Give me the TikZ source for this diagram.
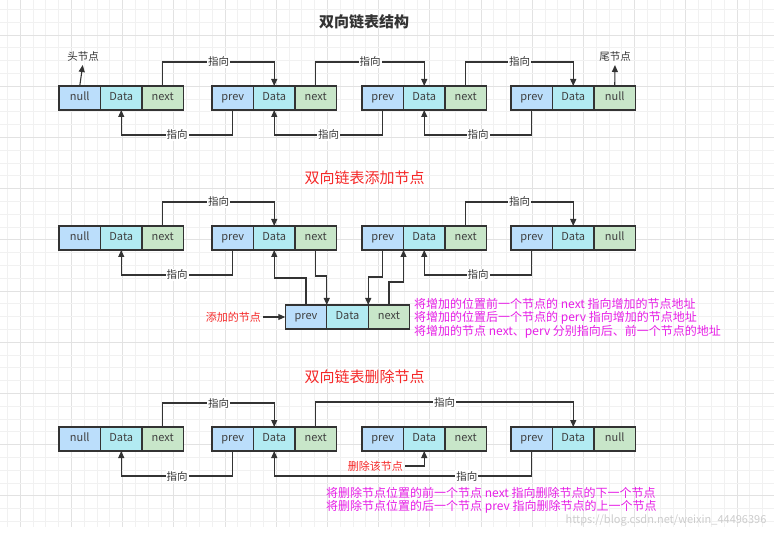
\documentclass[tikz,border=0pt]{standalone}
\usepackage{fontspec}
\setmainfont{Noto Sans CJK SC}
\usetikzlibrary{positioning,arrows.meta}
\definecolor{prevblue}{RGB}{187,222,251}
\definecolor{datacyan}{RGB}{178,235,242}
\definecolor{nextgreen}{RGB}{200,230,201}
\definecolor{linegray}{RGB}{51,51,51}
\definecolor{titlered}{RGB}{245,40,40}
\definecolor{notepink}{RGB}{230,30,230}
\definecolor{gridminor}{RGB}{241,241,241}
\definecolor{gridmajor}{RGB}{226,226,226}

\begin{document}
\begin{tikzpicture}[x = 1pt, y = -1pt,
    cell/.style = {draw = linegray, line width = 1.2pt, outer sep = 0pt, inner sep = 0pt,
        minimum width = 41.5pt, minimum height = 24pt, text = black!75,
        text height = 8pt, text depth = 2.5pt, font = \fontsize{11}{11}\selectfont},
    pv/.style = {cell, fill = prevblue},
    dt/.style = {cell, fill = datacyan},
    nx/.style = {cell, fill = nextgreen},
    link/.style = {draw = linegray, line width = 1.1pt, -{Triangle[length = 7pt, width = 6pt]}},
    lbl/.style = {fill = white, inner sep = 1pt, text = black!80, font = \fontsize{10.5}{10.5}\selectfont},
    redlbl/.style = {inner sep = 2pt, text = titlered, font = \fontsize{11}{11}\selectfont},
    note/.style = {align = left, inner sep = 0pt, text = notepink, font = \fontsize{12}{13.5}\selectfont},
    heading/.style = {text = titlered, font = \fontsize{15}{15}\selectfont}]

    \useasboundingbox (0,0) rectangle (774,537);
    % grid
    \foreach \i in {0,...,59}{
        \pgfmathsetmacro\gc{ifthenelse(mod(\i,4)==1,"gridmajor","gridminor")}
        \draw[\gc, line width = 0.8pt] ({7.3 + 12.8*\i},0) -- ({7.3 + 12.8*\i},527);
    }
    \foreach \j in {0,...,40}{
        \pgfmathsetmacro\gc{ifthenelse(mod(\j,4)==2,"gridmajor","gridminor")}
        \draw[\gc, line width = 0.8pt] (0,{9.4 + 12.8*\j}) -- (774,{9.4 + 12.8*\j});
    }

    % list nodes
    \foreach \rw/\y in {a/98, b/238, c/439}{
        \foreach \nd/\x/\first/\last in {1/59/null/next, 2/212/prev/next, 3/362/prev/next, 4/511/prev/null}{
            \node[pv] (\rw\nd p) at (\x + 20.75,\y) {\first};
            \node[dt, right = 0pt of \rw\nd p] (\rw\nd d) {Data};
            \node[nx, right = 0pt of \rw\nd d] (\rw\nd n) {\last};
        }
    }

    % titles
    \node[heading, text = black!80, font = \fontsize{15}{15}\selectfont\bfseries] (title) at (364,22) {双向链表结构};
    \node[heading] (addtitle) at (364.5,178) {双向链表添加节点};
    \node[heading] (deltitle) at (364.5,377) {双向链表删除节点};

    % next / prev links
    \foreach \s/\t in {a1/a2, a2/a3, a3/a4, b1/b2, b3/b4, c1/c2}{
        \draw[link] (\s n.north) -- ++(0,-24) -| node[lbl, pos = 0.25] {指向} (\t d.north);
        \draw[link] (\t p.south) -- ++(0,25) -| node[lbl, pos = 0.25] {指向} (\s d.south);
    }

    % head and tail
    \node[lbl, fill = none] (head) at (83,57) {头节点};
    \node[lbl, fill = none] (tail) at (615,57) {尾节点};
    \draw[link, shorten > = 2pt] (a1p.north) -- (head.south);
    \draw[link, shorten > = 2pt] (a4n.north) -- (tail.south);

    % added node
    \node[pv] (np) at (306,317) {prev};
    \node[dt, right = 0pt of np] (nd) {Data};
    \node[nx, right = 0pt of nd] (nn) {next};
    \node[redlbl, anchor = east] (addlbl) at (263,317) {添加的节点};
    \draw[link] (addlbl.east) -- (np.west);
    \draw[link] (np.north) -- ++(0,-27) -| (b2d.south);
    \draw[link] (b2n.south) -- ++(0,26) -| (nd.north west);
    \draw[link] (b3p.south) -- ++(0,27) -| (nd.north east);
    \draw[link] (nn.north) -- ++(0,-23) -| (b3d.south west);
    \node[note, anchor = west] (addnote) at (414,318)
        {将增加的位置前一个节点的 next 指向增加的节点地址\\
         将增加的位置后一个节点的 perv 指向增加的节点地址\\
         将增加的节点 next、perv 分别指向后、前一个节点的地址};

    % deleted node
    \draw[link] (c2n.north) -- ++(0,-25) -| node[lbl, pos = 0.25] {指向} (c4d.north);
    \draw[link] (c4p.south) -- ++(0,25) -| node[lbl, pos = 0.126] {指向} (c2d.south);
    \node[redlbl, anchor = east] (dellbl) at (405,466) {删除该节点};
    \draw[link] (dellbl.east) -| (c3d.south);
    \node[note, anchor = west] (delnote) at (326,500.5)
        {将删除节点位置的前一个节点 next 指向删除节点的下一个节点\\
         将删除节点位置的后一个节点 prev 指向删除节点的上一个节点};

    \node[text = gray!40, font = \fontsize{11}{11}\selectfont] (mark) at (666,520) {https://blog.csdn.net/weixin\_44496396};
\end{tikzpicture}
\end{document}
